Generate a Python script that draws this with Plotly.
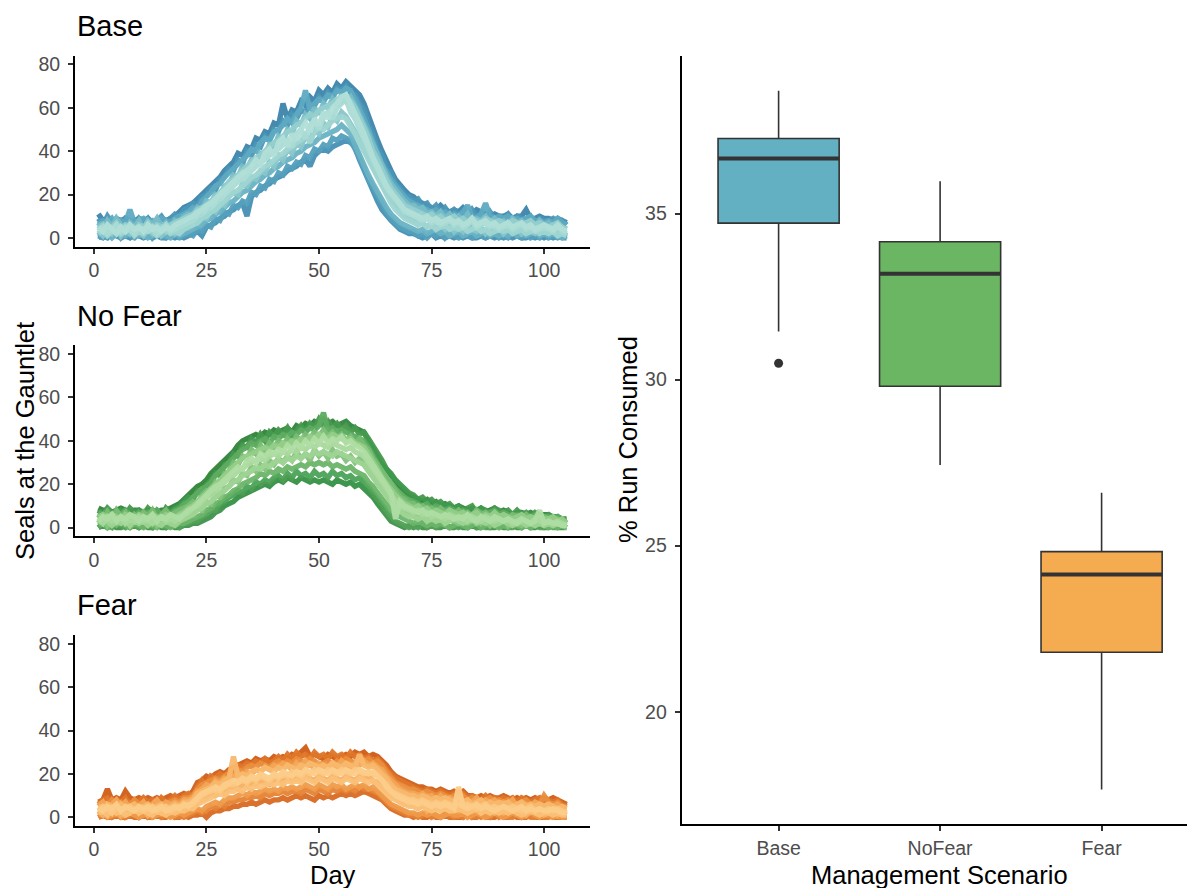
import plotly.graph_objects as go

FONT = "Liberation Sans, Arial, Helvetica, sans-serif"

days = list(range(1, 106))

# ---- Seals at the gauntlet, Base scenario (one list per simulation run) ----
base_a = [11, 8, 9, 7, 9, 8, 9, 7, 8, 9,
          8, 9, 7, 8, 9, 8, 9, 10, 12, 14,
          15, 16, 18, 20, 22, 24, 26, 28, 31, 33,
          35, 39, 38, 42, 41, 46, 45, 49, 48, 53,
          52, 62, 55, 59, 58, 63, 61, 65, 63, 68,
          66, 69, 67, 71, 69, 72, 70, 68, 66, 62,
          56, 50, 45, 40, 35, 31, 27, 24, 22, 20,
          19, 17, 16, 15, 14, 13, 15, 13, 12, 13,
          12, 14, 12, 11, 13, 12, 11, 10, 11, 10,
          10, 11, 9, 10, 10, 13, 9, 9, 10, 9,
          9, 8, 9, 8, 7]
base_b = [6, 8, 7, 9, 6, 8, 7, 13, 7, 8,
          9, 7, 8, 6, 9, 8, 7, 9, 10, 11,
          12, 14, 13, 17, 19, 21, 24, 25, 28, 30,
          32, 34, 36, 38, 41, 40, 44, 46, 45, 49,
          50, 52, 55, 53, 57, 60, 68, 59, 62, 64,
          63, 66, 65, 68, 67, 69, 68, 64, 60, 55,
          50, 44, 39, 34, 30, 27, 24, 21, 19, 17,
          16, 15, 14, 13, 12, 13, 11, 12, 10, 11,
          10, 12, 15, 10, 9, 11, 16, 10, 9, 10,
          9, 10, 8, 9, 8, 9, 10, 8, 8, 7,
          8, 7, 9, 7, 6]
base_c = [4, 6, 3, 5, 7, 4, 6, 5, 3, 6,
          5, 7, 4, 6, 5, 3, 6, 7, 8, 9,
          10, 11, 13, 14, 15, 17, 19, 21, 23, 26,
          27, 29, 31, 33, 35, 37, 38, 40, 42, 44,
          45, 47, 49, 50, 52, 53, 55, 57, 56, 59,
          60, 61, 62, 64, 63, 65, 63, 60, 56, 51,
          46, 40, 36, 31, 27, 23, 20, 17, 15, 14,
          13, 12, 11, 10, 11, 9, 10, 8, 9, 10,
          8, 9, 7, 9, 8, 7, 9, 8, 7, 8,
          7, 6, 8, 7, 6, 7, 8, 6, 7, 6,
          5, 6, 7, 5, 4]
base_d = [3, 5, 2, 4, 6, 3, 5, 4, 2, 5,
          4, 3, 5, 2, 4, 6, 3, 4, 5, 6,
          7, 8, 10, 11, 13, 14, 16, 18, 20, 22,
          24, 26, 27, 29, 31, 33, 35, 36, 38, 40,
          41, 43, 45, 42, 48, 50, 46, 52, 54, 50,
          56, 58, 55, 60, 62, 64, 58, 55, 50, 46,
          41, 36, 31, 27, 23, 20, 17, 14, 12, 11,
          10, 9, 8, 9, 7, 8, 6, 7, 8, 6,
          7, 5, 6, 8, 5, 6, 7, 5, 6, 4,
          5, 6, 4, 5, 6, 4, 5, 3, 4, 5,
          4, 3, 5, 3, 2]
base_e = [2, 4, 1, 3, 5, 2, 3, 4, 1, 3,
          2, 4, 3, 1, 3, 4, 2, 3, 2, 4,
          5, 6, 7, 9, 10, 12, 13, 15, 17, 19,
          21, 22, 24, 26, 28, 29, 31, 33, 34, 36,
          38, 39, 41, 42, 44, 45, 47, 44, 49, 51,
          50, 52, 54, 55, 56, 55, 52, 48, 44, 40,
          35, 31, 27, 23, 19, 16, 13, 11, 9, 8,
          7, 6, 7, 5, 6, 4, 5, 6, 4, 5,
          4, 5, 3, 4, 5, 3, 4, 2, 3, 4,
          3, 4, 2, 3, 4, 2, 3, 4, 2, 3,
          2, 3, 1, 2, 1]
base_f = [1, 3, 2, 0, 2, 4, 1, 2, 3, 1,
          2, 0, 1, 3, 2, 1, 0, 2, 1, 2,
          3, 4, 5, 6, 8, 9, 11, 12, 14, 16,
          17, 19, 21, 22, 24, 26, 27, 29, 30, 32,
          33, 35, 36, 37, 39, 40, 42, 43, 44, 46,
          47, 48, 49, 50, 52, 50, 48, 43, 38, 34,
          29, 25, 21, 17, 14, 11, 9, 7, 6, 5,
          4, 3, 4, 2, 3, 4, 2, 3, 1, 2,
          3, 1, 2, 3, 1, 2, 3, 1, 2, 1,
          2, 1, 3, 1, 2, 1, 2, 3, 1, 2,
          1, 2, 1, 0, 1]
base_g = [0, 1, 0, 2, 1, 0, 1, 0, 2, 1,
          0, 1, 0, 1, 0, 0, 1, 0, 1, 0,
          1, 2, 3, 1, 5, 6, 7, 9, 10, 12,
          13, 15, 16, 10, 19, 21, 22, 24, 25, 27,
          28, 29, 31, 32, 33, 35, 36, 33, 38, 40,
          41, 40, 42, 43, 44, 45, 44, 42, 36, 31,
          26, 21, 17, 13, 10, 8, 6, 4, 3, 2,
          2, 1, 0, 1, 2, 0, 1, 0, 1, 0,
          1, 0, 1, 0, 0, 1, 0, 1, 0, 1,
          0, 1, 0, 1, 0, 0, 1, 0, 1, 0,
          1, 0, 1, 0, 0]
base_h = [5, 3, 6, 4, 2, 5, 3, 6, 4, 5,
          3, 6, 4, 5, 3, 5, 4, 6, 7, 8,
          9, 10, 12, 13, 15, 16, 18, 20, 22, 24,
          26, 28, 30, 31, 33, 36, 34, 39, 41, 38,
          44, 46, 42, 48, 45, 50, 53, 49, 55, 52,
          58, 55, 60, 62, 65, 66, 62, 58, 53, 48,
          42, 37, 33, 28, 24, 21, 18, 15, 13, 12,
          11, 10, 9, 10, 8, 9, 7, 8, 9, 7,
          8, 6, 7, 9, 6, 7, 8, 6, 7, 5,
          6, 7, 5, 6, 7, 5, 6, 4, 5, 6,
          5, 4, 6, 4, 3]
base_i = [9, 6, 10, 7, 8, 5, 9, 8, 6, 9,
          7, 9, 6, 8, 10, 7, 9, 11, 10, 13,
          14, 16, 15, 19, 20, 23, 22, 27, 28, 32,
          31, 36, 34, 40, 38, 43, 42, 47, 45, 50,
          49, 54, 52, 57, 55, 59, 58, 62, 61, 65,
          63, 67, 65, 69, 68, 70, 67, 66, 62, 59,
          52, 48, 41, 38, 32, 30, 25, 23, 20, 19,
          17, 18, 15, 16, 13, 15, 12, 14, 11, 13,
          11, 12, 10, 13, 10, 11, 9, 12, 9, 10,
          9, 11, 8, 10, 9, 8, 10, 7, 9, 8,
          8, 9, 7, 8, 6]
base_j = [7, 4, 8, 5, 9, 6, 3, 7, 5, 8,
          4, 8, 6, 9, 5, 7, 4, 8, 7, 10,
          11, 10, 14, 13, 17, 16, 20, 19, 24, 25,
          29, 28, 33, 32, 36, 35, 39, 38, 43, 42,
          47, 45, 50, 48, 54, 52, 57, 55, 60, 57,
          62, 60, 64, 61, 66, 63, 65, 61, 57, 53,
          48, 43, 38, 33, 29, 25, 22, 19, 17, 15,
          15, 13, 14, 11, 12, 10, 12, 9, 11, 8,
          10, 8, 11, 7, 9, 8, 10, 7, 9, 7,
          8, 6, 9, 7, 8, 6, 7, 5, 8, 6,
          7, 5, 6, 5, 4]
base_k = [3, 1, 4, 2, 5, 1, 4, 2, 5, 3,
          1, 4, 2, 5, 1, 3, 5, 2, 4, 5,
          6, 8, 7, 10, 9, 13, 12, 16, 15, 19,
          21, 20, 25, 24, 28, 27, 31, 30, 35, 33,
          38, 36, 41, 39, 44, 42, 47, 45, 50, 48,
          53, 51, 56, 54, 58, 56, 53, 49, 45, 41,
          37, 33, 28, 25, 21, 18, 15, 13, 10, 9,
          8, 6, 7, 5, 7, 4, 6, 4, 6, 3,
          5, 3, 6, 4, 3, 5, 2, 4, 3, 5,
          2, 4, 3, 5, 2, 4, 3, 2, 4, 3,
          2, 4, 2, 3, 1]
base_l = [1, 0, 2, 1, 3, 0, 2, 1, 0, 2,
          1, 3, 0, 2, 1, 0, 2, 1, 0, 1,
          2, 1, 4, 3, 6, 5, 9, 8, 12, 11,
          15, 14, 17, 16, 21, 20, 24, 23, 27, 26,
          30, 29, 33, 32, 35, 34, 38, 37, 41, 40,
          43, 42, 46, 45, 47, 46, 45, 41, 37, 32,
          27, 23, 19, 15, 12, 9, 7, 5, 4, 3,
          3, 1, 2, 0, 2, 1, 3, 0, 2, 1,
          0, 2, 1, 0, 2, 1, 0, 1, 2, 0,
          1, 0, 2, 1, 0, 2, 0, 1, 0, 2,
          0, 1, 0, 1, 0]

# ---- No Fear scenario ----
nofear_a = [9, 8, 8, 7, 8, 9, 8, 7, 8, 8,
            7, 8, 8, 7, 8, 8, 9, 10, 11, 13,
            15, 17, 19, 20, 22, 25, 27, 29, 31, 33,
            35, 38, 40, 41, 42, 43, 42, 44, 43, 45,
            44, 45, 46, 44, 47, 46, 48, 47, 49, 48,
            50, 48, 49, 47, 48, 49, 47, 46, 45, 44,
            40, 36, 32, 29, 27, 24, 21, 19, 17, 15,
            14, 13, 12, 13, 11, 12, 10, 11, 10, 9,
            10, 9, 8, 9, 8, 9, 7, 8, 9, 7,
            8, 7, 6, 7, 7, 6, 7, 6, 5, 6,
            6, 5, 5, 4, 4]
nofear_b = [7, 6, 8, 5, 7, 6, 8, 6, 5, 7,
            6, 7, 5, 8, 6, 7, 6, 8, 9, 11,
            12, 14, 16, 18, 19, 21, 24, 26, 28, 30,
            32, 34, 36, 37, 39, 38, 40, 41, 39, 42,
            41, 43, 42, 44, 43, 45, 44, 46, 45, 47,
            53, 45, 46, 44, 45, 44, 43, 42, 41, 40,
            37, 33, 30, 26, 23, 20, 18, 16, 14, 13,
            12, 11, 10, 11, 9, 10, 9, 8, 9, 8,
            7, 8, 7, 6, 8, 7, 6, 7, 8, 6,
            7, 6, 5, 6, 5, 6, 5, 6, 4, 5,
            5, 4, 5, 3, 3]
nofear_c = [5, 6, 4, 6, 5, 3, 6, 5, 4, 6,
            5, 4, 6, 5, 4, 6, 5, 4, 6, 7,
            9, 10, 12, 14, 16, 18, 20, 22, 24, 26,
            28, 30, 32, 33, 34, 35, 36, 37, 36, 38,
            37, 39, 38, 40, 39, 41, 40, 42, 41, 43,
            42, 41, 43, 42, 41, 40, 41, 39, 38, 37,
            34, 31, 27, 23, 20, 17, 15, 13, 11, 10,
            9, 10, 8, 9, 7, 8, 7, 6, 8, 7,
            6, 7, 5, 6, 7, 5, 6, 5, 7, 5,
            6, 5, 4, 5, 6, 4, 5, 4, 5, 4,
            4, 5, 3, 4, 2]
nofear_d = [4, 2, 5, 3, 4, 5, 2, 4, 3, 5,
            3, 4, 2, 4, 5, 3, 4, 3, 5, 6,
            7, 9, 10, 12, 14, 15, 17, 19, 21, 23,
            24, 26, 27, 29, 30, 31, 32, 31, 33, 34,
            33, 35, 34, 36, 35, 37, 36, 38, 37, 39,
            38, 37, 39, 38, 37, 36, 37, 35, 34, 33,
            30, 27, 24, 20, 17, 14, 12, 10, 9, 8,
            7, 8, 6, 7, 5, 6, 5, 4, 6, 5,
            4, 5, 3, 5, 4, 3, 5, 4, 3, 4,
            3, 4, 2, 3, 4, 3, 2, 4, 3, 2,
            3, 2, 3, 2, 1]
nofear_e = [2, 4, 3, 1, 3, 2, 4, 1, 3, 2,
            3, 1, 3, 2, 1, 3, 2, 1, 3, 4,
            5, 6, 8, 9, 11, 12, 14, 16, 17, 19,
            21, 22, 24, 25, 26, 28, 27, 29, 28, 30,
            31, 30, 32, 31, 33, 32, 34, 33, 35, 34,
            35, 34, 33, 35, 34, 33, 32, 31, 30, 29,
            26, 23, 20, 17, 14, 11, 9, 8, 6, 5,
            5, 4, 5, 3, 4, 3, 4, 2, 3, 4,
            3, 2, 3, 4, 2, 3, 2, 3, 1, 2,
            3, 2, 1, 2, 3, 1, 2, 1, 2, 1,
            2, 1, 2, 1, 1]
nofear_f = [1, 2, 0, 2, 1, 3, 1, 0, 2, 1,
            0, 2, 1, 0, 2, 1, 0, 1, 2, 2,
            3, 4, 5, 6, 8, 9, 11, 12, 14, 15,
            17, 18, 20, 21, 22, 23, 25, 24, 26, 25,
            27, 26, 28, 27, 28, 29, 28, 30, 29, 30,
            29, 30, 28, 29, 28, 27, 28, 26, 25, 24,
            21, 19, 16, 13, 10, 8, 6, 5, 4, 3,
            2, 3, 2, 1, 2, 1, 2, 1, 0, 1,
            2, 1, 0, 1, 2, 0, 1, 2, 1, 0,
            1, 0, 2, 1, 0, 1, 0, 1, 2, 1,
            0, 1, 0, 1, 0]
nofear_g = [0, 1, 0, 1, 0, 0, 1, 0, 1, 0,
            1, 0, 0, 1, 0, 0, 1, 0, 0, 1,
            1, 2, 2, 3, 4, 5, 7, 8, 10, 11,
            12, 14, 15, 16, 17, 18, 19, 20, 19, 21,
            22, 21, 23, 22, 21, 23, 22, 21, 22, 21,
            22, 21, 20, 22, 21, 20, 21, 19, 20, 18,
            16, 14, 11, 8, 5, 3, 2, 1, 0, 1,
            0, 1, 0, 0, 1, 0, 0, 1, 0, 0,
            1, 0, 0, 1, 0, 0, 1, 0, 0, 1,
            0, 0, 1, 0, 0, 1, 0, 0, 1, 0,
            0, 1, 0, 0, 0]
nofear_h = [3, 5, 4, 6, 3, 5, 4, 6, 5, 3,
            5, 4, 6, 3, 5, 4, 6, 5, 4, 6,
            8, 9, 11, 13, 15, 17, 19, 20, 22, 24,
            26, 28, 27, 31, 32, 30, 34, 33, 35, 34,
            36, 35, 38, 36, 39, 37, 40, 38, 41, 39,
            42, 39, 41, 40, 42, 39, 40, 38, 37, 35,
            32, 29, 25, 22, 19, 16, 4, 12, 10, 9,
            8, 7, 8, 6, 7, 6, 5, 6, 5, 4,
            5, 4, 6, 4, 3, 5, 4, 3, 5, 4,
            3, 4, 3, 2, 4, 3, 2, 3, 8, 2,
            3, 2, 2, 1, 1]
nofear_i = [8, 6, 9, 7, 5, 8, 6, 9, 7, 8,
            6, 9, 7, 8, 5, 9, 7, 9, 10, 12,
            14, 13, 17, 16, 20, 22, 25, 24, 29, 30,
            34, 33, 38, 37, 41, 39, 43, 40, 44, 42,
            45, 43, 46, 42, 45, 47, 44, 48, 46, 50,
            47, 49, 46, 48, 45, 47, 44, 46, 43, 44,
            41, 38, 34, 31, 27, 25, 22, 20, 18, 16,
            15, 13, 14, 12, 13, 11, 12, 10, 11, 9,
            10, 8, 9, 10, 7, 9, 8, 7, 9, 8,
            7, 8, 6, 8, 6, 7, 5, 7, 6, 5,
            6, 4, 5, 3, 4]
nofear_j = [6, 3, 7, 4, 8, 5, 7, 3, 6, 4,
            7, 5, 8, 4, 6, 8, 5, 7, 8, 9,
            10, 12, 11, 15, 17, 16, 21, 20, 25, 26,
            30, 29, 33, 32, 36, 34, 38, 35, 39, 37,
            40, 38, 41, 39, 42, 40, 43, 41, 44, 42,
            45, 42, 44, 41, 43, 40, 42, 39, 41, 38,
            36, 32, 29, 25, 22, 19, 17, 14, 13, 11,
            11, 9, 10, 8, 9, 7, 9, 7, 8, 6,
            8, 6, 7, 5, 8, 6, 7, 5, 6, 5,
            6, 4, 6, 5, 4, 6, 4, 5, 3, 5,
            4, 3, 4, 3, 2]
nofear_k = [2, 5, 1, 4, 2, 5, 3, 1, 4, 2,
            5, 2, 4, 1, 3, 5, 2, 4, 3, 5,
            6, 7, 9, 8, 12, 11, 15, 14, 18, 19,
            22, 21, 25, 24, 28, 26, 29, 27, 31, 29,
            32, 30, 33, 31, 35, 32, 34, 31, 36, 33,
            35, 32, 36, 33, 34, 31, 33, 30, 32, 29,
            27, 24, 21, 18, 15, 12, 10, 8, 7, 6,
            6, 4, 6, 3, 5, 3, 5, 2, 4, 3,
            2, 4, 2, 3, 5, 2, 4, 1, 3, 2,
            4, 1, 3, 2, 1, 3, 2, 1, 3, 1,
            2, 1, 2, 1, 0]
nofear_l = [0, 2, 1, 0, 3, 1, 0, 2, 1, 0,
            2, 1, 0, 3, 1, 0, 2, 1, 0, 2,
            2, 3, 3, 5, 6, 8, 8, 11, 12, 14,
            15, 17, 16, 19, 18, 21, 20, 22, 21, 23,
            24, 22, 25, 23, 26, 24, 25, 23, 26, 24,
            25, 23, 26, 24, 25, 23, 24, 22, 23, 21,
            19, 16, 13, 10, 7, 5, 3, 2, 1, 0,
            1, 0, 2, 0, 1, 0, 1, 2, 0, 1,
            0, 1, 0, 2, 0, 1, 0, 0, 1, 0,
            1, 0, 0, 1, 0, 2, 0, 1, 0, 0,
            1, 0, 0, 1, 0]

# ---- Fear scenario ----
fear_a = [7, 8, 13, 8, 9, 8, 12, 9, 8, 9,
          8, 9, 8, 9, 8, 9, 10, 9, 10, 11,
          10, 12, 16, 17, 19, 18, 20, 21, 20, 22,
          23, 24, 25, 26, 25, 27, 26, 27, 26, 28,
          27, 28, 27, 29, 28, 30, 32, 28, 29, 28,
          27, 29, 28, 27, 28, 29, 28, 30, 29, 30,
          28, 29, 28, 26, 24, 21, 19, 18, 17, 16,
          15, 14, 14, 13, 13, 12, 13, 12, 11, 12,
          11, 12, 10, 10, 9, 10, 9, 10, 9, 9,
          10, 9, 8, 9, 8, 9, 8, 9, 8, 9,
          8, 9, 8, 7, 6]
fear_b = [6, 7, 5, 8, 6, 7, 5, 6, 8, 6,
          7, 5, 6, 7, 5, 6, 7, 8, 7, 9,
          9, 10, 13, 15, 16, 17, 18, 17, 19, 20,
          21, 22, 21, 23, 24, 23, 25, 24, 23, 25,
          26, 24, 26, 25, 27, 26, 25, 27, 26, 24,
          25, 26, 24, 26, 25, 27, 26, 25, 27, 26,
          27, 25, 26, 24, 21, 18, 16, 15, 14, 13,
          13, 12, 11, 12, 11, 10, 11, 10, 9, 10,
          9, 10, 8, 9, 8, 7, 8, 9, 7, 8,
          7, 8, 7, 6, 7, 8, 6, 7, 6, 10,
          7, 6, 7, 5, 5]
fear_c = [5, 4, 6, 5, 3, 6, 4, 5, 6, 4,
          5, 6, 4, 5, 6, 4, 5, 6, 5, 7,
          7, 8, 11, 12, 13, 14, 16, 15, 17, 18,
          28, 19, 20, 19, 21, 22, 21, 23, 22, 21,
          23, 22, 24, 23, 22, 24, 23, 25, 24, 23,
          24, 23, 25, 24, 23, 25, 24, 23, 29, 24,
          23, 24, 22, 20, 18, 15, 13, 12, 11, 10,
          10, 9, 10, 9, 8, 9, 8, 9, 8, 7,
          8, 7, 8, 6, 7, 8, 6, 7, 6, 7,
          6, 7, 5, 6, 7, 5, 6, 5, 6, 5,
          6, 5, 4, 5, 4]
fear_d = [3, 5, 4, 2, 5, 3, 4, 5, 3, 4,
          3, 4, 5, 3, 4, 5, 3, 4, 5, 5,
          6, 6, 8, 10, 11, 12, 13, 12, 14, 15,
          15, 16, 17, 16, 18, 17, 19, 18, 17, 19,
          18, 20, 19, 21, 20, 19, 21, 20, 22, 21,
          20, 22, 21, 20, 22, 21, 20, 22, 21, 20,
          21, 20, 19, 17, 15, 12, 11, 10, 9, 8,
          8, 7, 8, 7, 6, 7, 6, 7, 6, 5,
          6, 5, 6, 5, 4, 5, 6, 4, 5, 4,
          5, 4, 5, 4, 3, 4, 5, 3, 4, 3,
          4, 3, 4, 3, 2]
fear_e = [2, 3, 1, 4, 2, 3, 1, 2, 4, 2,
          3, 2, 1, 3, 2, 1, 3, 2, 3, 3,
          4, 4, 6, 7, 8, 9, 10, 11, 10, 12,
          12, 13, 12, 14, 13, 15, 14, 15, 16, 15,
          16, 15, 17, 16, 17, 16, 18, 17, 16, 18,
          17, 16, 18, 17, 16, 18, 17, 16, 18, 17,
          16, 17, 15, 13, 11, 9, 8, 7, 6, 5,
          5, 4, 5, 4, 3, 4, 3, 4, 3, 3,
          4, 3, 2, 3, 4, 2, 3, 2, 3, 2,
          3, 2, 3, 2, 1, 2, 3, 2, 1, 2,
          2, 1, 2, 1, 1]
fear_f = [1, 2, 0, 1, 2, 0, 1, 2, 1, 0,
          1, 2, 0, 1, 2, 1, 0, 1, 2, 1,
          2, 3, 4, 3, 5, 6, 7, 6, 8, 9,
          9, 10, 11, 10, 12, 11, 12, 13, 12, 13,
          12, 14, 13, 14, 13, 14, 15, 14, 13, 15,
          14, 13, 15, 14, 15, 13, 14, 15, 14, 15,
          13, 14, 12, 10, 8, 6, 5, 4, 3, 2,
          2, 1, 2, 1, 2, 1, 0, 1, 2, 1,
          1, 2, 0, 1, 2, 1, 0, 1, 2, 1,
          0, 1, 2, 1, 0, 1, 2, 1, 0, 1,
          1, 0, 1, 0, 0]
fear_g = [0, 1, 0, 0, 1, 0, 0, 1, 0, 0,
          1, 0, 0, 1, 0, 0, 1, 0, 0, 1,
          0, 1, 1, 2, 0, 2, 3, 3, 4, 4,
          5, 5, 6, 6, 7, 6, 7, 8, 7, 8,
          8, 9, 8, 9, 10, 9, 10, 9, 8, 10,
          9, 10, 9, 10, 11, 10, 11, 10, 11, 12,
          11, 10, 9, 8, 6, 4, 3, 2, 1, 1,
          0, 1, 0, 0, 1, 0, 0, 1, 0, 0,
          0, 0, 1, 0, 0, 1, 0, 0, 0, 1,
          0, 0, 1, 0, 0, 0, 1, 0, 0, 0,
          1, 0, 0, 0, 0]
fear_h = [4, 3, 5, 4, 6, 3, 5, 4, 3, 5,
          4, 5, 3, 4, 5, 3, 4, 5, 4, 6,
          5, 7, 9, 11, 12, 13, 14, 13, 15, 16,
          17, 16, 18, 17, 19, 18, 20, 19, 18, 20,
          19, 21, 20, 19, 21, 20, 22, 21, 20, 22,
          21, 20, 22, 21, 20, 22, 21, 20, 22, 21,
          20, 21, 19, 17, 14, 12, 10, 9, 8, 7,
          7, 6, 7, 6, 5, 6, 5, 6, 5, 4,
          14, 5, 4, 5, 6, 4, 5, 4, 3, 4,
          5, 4, 3, 4, 5, 3, 4, 3, 4, 3,
          3, 4, 3, 2, 2]
fear_i = [6, 8, 9, 6, 8, 7, 9, 6, 8, 7,
          9, 7, 8, 6, 9, 7, 8, 10, 8, 10,
          11, 10, 14, 17, 15, 19, 18, 20, 19, 21,
          22, 24, 23, 25, 24, 26, 25, 27, 25, 26,
          28, 26, 29, 27, 30, 28, 29, 27, 30, 28,
          29, 27, 30, 28, 29, 27, 30, 28, 29, 27,
          28, 26, 27, 25, 22, 20, 18, 17, 16, 15,
          14, 13, 12, 13, 12, 11, 12, 11, 10, 11,
          10, 11, 9, 10, 9, 8, 10, 8, 9, 8,
          9, 8, 9, 7, 9, 8, 7, 8, 9, 7,
          8, 7, 8, 6, 5]
fear_j = [5, 7, 4, 6, 8, 5, 7, 4, 6, 5,
          7, 4, 6, 8, 5, 7, 6, 7, 6, 8,
          8, 9, 12, 13, 15, 14, 17, 16, 18, 17,
          19, 20, 19, 21, 20, 22, 21, 23, 22, 24,
          23, 25, 24, 22, 25, 23, 26, 24, 23, 25,
          24, 22, 25, 23, 26, 24, 23, 25, 24, 26,
          24, 25, 23, 22, 19, 17, 15, 13, 12, 11,
          11, 10, 11, 9, 10, 8, 10, 8, 9, 8,
          9, 7, 8, 7, 9, 6, 8, 7, 8, 6,
          7, 6, 8, 5, 7, 6, 5, 7, 6, 5,
          6, 5, 6, 4, 4]
fear_k = [3, 1, 4, 2, 4, 1, 3, 2, 5, 2,
          4, 1, 3, 5, 2, 4, 2, 3, 4, 3,
          5, 4, 7, 8, 9, 11, 10, 12, 11, 13,
          14, 13, 15, 14, 16, 15, 17, 16, 15, 17,
          18, 16, 19, 17, 18, 17, 20, 18, 17, 19,
          18, 17, 19, 18, 17, 19, 18, 17, 19, 18,
          19, 17, 16, 14, 12, 10, 9, 7, 6, 6,
          5, 4, 6, 3, 5, 4, 3, 5, 3, 4,
          3, 4, 2, 4, 3, 2, 4, 3, 2, 3,
          2, 3, 4, 2, 3, 1, 3, 2, 3, 1,
          2, 3, 1, 2, 1]
fear_l = [0, 1, 2, 0, 1, 3, 0, 1, 2, 0,
          2, 0, 1, 2, 0, 1, 2, 0, 1, 0,
          1, 2, 3, 2, 3, 5, 4, 6, 5, 7,
          7, 8, 8, 9, 9, 10, 9, 11, 10, 11,
          11, 12, 11, 12, 12, 11, 13, 12, 11, 13,
          12, 11, 13, 12, 13, 12, 13, 12, 14, 13,
          13, 12, 11, 9, 7, 5, 4, 3, 2, 1,
          1, 0, 1, 2, 0, 1, 0, 2, 1, 0,
          1, 0, 2, 0, 1, 0, 1, 0, 2, 0,
          1, 0, 0, 2, 0, 1, 0, 0, 1, 0,
          0, 1, 0, 0, 0]

# ---- % of run consumed, box statistics per management scenario ----
scenarios = ["Base", "NoFear", "Fear"]
q1_vals = [34.71, 29.80, 21.79]
median_vals = [36.66, 33.19, 24.13]
q3_vals = [37.26, 34.15, 24.82]
lower_whisker = [31.45, 27.43, 17.66]
upper_whisker = [38.70, 35.97, 26.59]
outlier_scenario = ["Base"]
outlier_vals = [30.49]

# Draw order: darker runs first, lighter runs on top
panels = [
    ("Base",
     [base_a, base_g, base_i, base_l, base_b, base_f, base_j, base_k,
      base_c, base_e, base_d, base_h],
     ["#3d84ac", "#4590b5", "#4c97b8", "#55a0bd", "#5eaac2", "#6ab3c5",
      "#79bdc8", "#88c6cb", "#95cfcf", "#a0d6d2", "#aadcd6", "#b2e0d8"]),
    ("No Fear",
     [nofear_a, nofear_g, nofear_i, nofear_l, nofear_b, nofear_f, nofear_j, nofear_k,
      nofear_c, nofear_e, nofear_d, nofear_h],
     ["#35883f", "#3f9249", "#489a51", "#52a359", "#5dac61", "#6bb56a",
      "#7abd74", "#88c67f", "#94ce8a", "#9fd494", "#a8da9d", "#afdea4"]),
    ("Fear",
     [fear_a, fear_g, fear_i, fear_l, fear_b, fear_f, fear_j, fear_k,
      fear_c, fear_e, fear_d, fear_h],
     ["#d15d18", "#d96a21", "#df762a", "#e58233", "#eb8f3e", "#f09b4a",
      "#f4a656", "#f7b062", "#f9b96d", "#fbc179", "#fcc883", "#fdcd8a"]),
]
box_fill = ["#62b0c2", "#6bb663", "#f5ac50"]

W, H = 1187, 888

fig = go.Figure()

for i, (title, runs, colors) in enumerate(panels):
    ax = "" if i == 0 else str(i + 1)
    for run, col in zip(runs, colors):
        fig.add_trace(go.Scatter(
            x=days, y=run, mode="lines",
            line=dict(color=col, width=5.3),
            opacity=0.95,
            xaxis="x" + ax, yaxis="y" + ax,
            hoverinfo="skip",
        ))

# Box plot on the right, one box per scenario at positions 1..3
pos = [1, 2, 3]
box_w = 0.75
for p, name, a, m, b, lo, hi, fc in zip(pos, scenarios, q1_vals, median_vals, q3_vals,
                                       lower_whisker, upper_whisker, box_fill):
    fig.add_trace(go.Box(
        x=[p], q1=[a], median=[m], q3=[b], lowerfence=[lo], upperfence=[hi],
        fillcolor=fc, line=dict(color="#333333", width=1.6),
        width=box_w, whiskerwidth=0, boxpoints=False,
        xaxis="x4", yaxis="y4", name=name,
    ))
    # thicker median bar
    fig.add_trace(go.Scatter(
        x=[p - box_w / 2, p + box_w / 2], y=[m, m], mode="lines",
        line=dict(color="#333333", width=4),
        xaxis="x4", yaxis="y4", hoverinfo="skip",
    ))

fig.add_trace(go.Scatter(
    x=[pos[scenarios.index(s)] for s in outlier_scenario], y=outlier_vals,
    mode="markers", marker=dict(color="#333333", size=9),
    xaxis="x4", yaxis="y4", hoverinfo="skip",
))

axis_common = dict(
    showline=True, linecolor="black", linewidth=2,
    ticks="outside", ticklen=5, tickwidth=1.5, tickcolor="#333333",
    tickfont=dict(family=FONT, size=19.5, color="#4d4d4d"),
    showgrid=False, zeroline=False,
)
x_common = dict(axis_common, ticklabelstandoff=0)
y_common = dict(axis_common, ticklabelstandoff=4)


def py(px):
    return 1 - px / H


# left panel geometry (pixels): plot area top / bottom
panel_tops = [54.0, 345.0, 636.0]
panel_h = 191.7
xdom_left = [75 / W, 590 / W]

layout = dict(
    width=W, height=H, margin=dict(l=0, r=0, t=0, b=0),
    plot_bgcolor="white", paper_bgcolor="white", showlegend=False,
    font=dict(family=FONT, color="#4d4d4d"),
)

for i, top in enumerate(panel_tops):
    ax = "" if i == 0 else str(i + 1)
    layout["xaxis" + ax] = dict(x_common, domain=xdom_left, range=[-4.2, 110.2],
                                tickvals=[0, 25, 50, 75, 100], anchor="y" + ax)
    layout["yaxis" + ax] = dict(y_common, domain=[py(top + panel_h), py(top)],
                                range=[-4, 84], tickvals=[0, 20, 40, 60, 80],
                                anchor="x" + ax)

right_left_px = 681.7
unit_px = 161.5
layout["xaxis4"] = dict(x_common, domain=[right_left_px / W, 1],
                        range=[0.4, 0.4 + (W - right_left_px) / unit_px],
                        tickvals=pos, ticktext=scenarios, anchor="y4")
layout["yaxis4"] = dict(y_common, domain=[py(826), py(54)],
                        range=[16.61, 39.75], tickvals=[20, 25, 30, 35], anchor="x4")

annotations = []
title_y = [24, 315, 606]
for (title, _, _), ty in zip(panels, title_y):
    annotations.append(dict(text=title, x=75 / W, y=py(ty), xref="paper", yref="paper",
                            xanchor="left", yanchor="middle", showarrow=False,
                            font=dict(family=FONT, size=29, color="black")))

axis_titles = [
    ("Day", 333, 877, 0),
    ("Management Scenario", 939, 877, 0),
    ("Seals at the Gauntlet", 25, 441, -90),
    ("% Run Consumed", 628, 440, -90),
]
for txt, x, y, ang in axis_titles:
    annotations.append(dict(text=txt, x=x / W, y=py(y), xref="paper", yref="paper",
                            xanchor="center", yanchor="middle", showarrow=False,
                            textangle=ang, font=dict(family=FONT, size=25.5, color="black")))

layout["annotations"] = annotations
fig.update_layout(**layout)

fig.write_html("out.html")
